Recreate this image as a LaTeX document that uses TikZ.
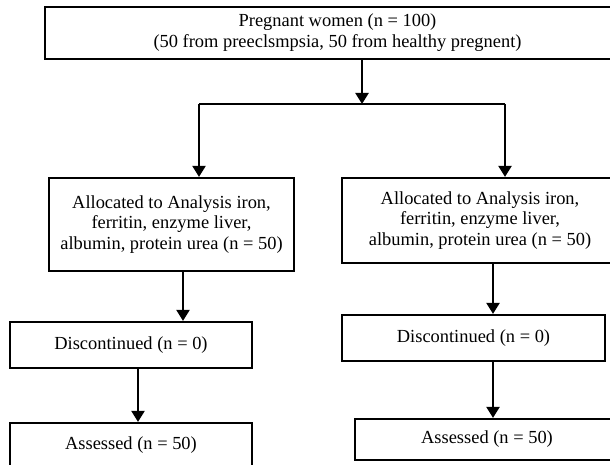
\documentclass[tikz,border=0pt]{standalone}
\usepackage{fontspec}
\setmainfont{Liberation Serif}
\usetikzlibrary{arrows.meta}

\begin{document}
\begin{tikzpicture}[x=1bp,y=-1bp,
	box/.style={draw,line width=2.2bp,align=center,inner sep=0pt,font=\fontsize{18.5}{21}\selectfont},
	arr/.style={line width=2.2bp,-{Triangle[width=13bp,length=11bp]}}]
\useasboundingbox (0,0) rectangle (610,465);
\clip (0,0) rectangle (610,465);
\node[box,minimum width=585bp,minimum height=52bp](top) at (337.5,33)
	{Pregnant women (n = 100)\\(50 from preeclsmpsia, 50 from healthy pregnent)};
\node[box,minimum width=245bp,minimum height=93bp](L1) at (171.5,224.5)
	{Allocated to Analysis iron,\\ferritin, enzyme liver,\\albumin, protein urea (n = 50)};
\node[box,minimum width=276bp,minimum height=85bp](R1) at (480,220.5)
	{Allocated to Analysis iron,\\ferritin, enzyme liver,\\albumin, protein urea (n = 50)};
\node[box,minimum width=242bp,minimum height=46bp](L2) at (131,345) {Discontinued (n = 0)};
\node[box,minimum width=263bp,minimum height=46bp](R2) at (473.5,338) {Discontinued (n = 0)};
\node[box,minimum width=242bp,minimum height=44bp](L3) at (131,445) {Assessed (n = 50)};
\node[box,minimum width=264bp,minimum height=41bp](R3) at (487,439.5) {Assessed (n = 50)};
\coordinate (split) at (362,104);
\coordinate (jL) at (199,104);
\coordinate (jR) at (505,104);
\coordinate (aL) at (183,0);
\coordinate (bL) at (138,0);
\coordinate (aR) at (493,0);
\draw[arr] (top.south -| split) -- (split);
\draw[line width=2.2bp] (jL) -- (jR);
\draw[arr] (jL) -- (L1.north -| jL);
\draw[arr] (jR) -- (R1.north -| jR);
\draw[arr] (L1.south -| aL) -- (L2.north -| aL);
\draw[arr] (L2.south -| bL) -- (L3.north -| bL);
\draw[arr] (R1.south -| aR) -- (R2.north -| aR);
\draw[arr] (R2.south -| aR) -- (R3.north -| aR);
\end{tikzpicture}
\end{document}
